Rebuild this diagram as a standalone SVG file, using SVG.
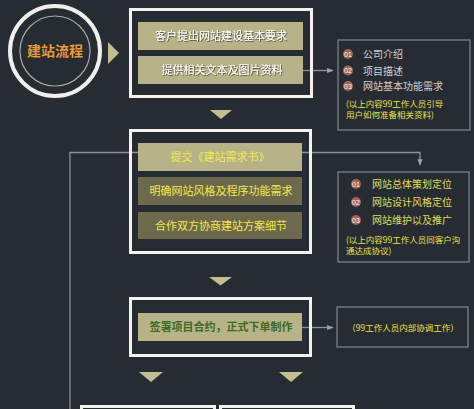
<svg xmlns="http://www.w3.org/2000/svg" width="474" height="409" viewBox="0 0 474 409">
<defs>
<style>
.frame{fill:none;stroke:#f4f2ec;stroke-width:3}
.rowL{fill:#b7b288}
.rowD{fill:#6d694c}
.tri{fill:#c3bd92}
.conn{fill:none;stroke:#8d9096;stroke-width:1.3}
.call{fill:none;stroke:#83868c;stroke-width:1.2}
.t{font-family:"Noto Sans CJK SC","Liberation Sans",sans-serif;font-size:11px;text-anchor:middle}
.w{fill:#ffffff}
.y{fill:#f0ea4a}
.g{fill:#3f6a23;font-weight:bold}
.ci{fill:#a5624f}
.num{font-family:"Liberation Sans",sans-serif;font-size:7px;fill:#ffffff;text-anchor:middle}
.it{font-family:"Noto Sans CJK SC","Liberation Sans",sans-serif;font-size:10px}
.note{font-family:"Noto Sans CJK SC","Liberation Sans",sans-serif;font-size:8.5px;fill:#e8e24a}
</style>
<marker id="ah" viewBox="0 0 10 10" refX="9" refY="5" markerWidth="5" markerHeight="5" orient="auto">
<path d="M0,1 L10,5 L0,9 z" fill="#a0a3a8"/>
</marker>
<filter id="sh" x="-10%" y="-30%" width="120%" height="160%">
<feDropShadow dx="0.8" dy="0.8" stdDeviation="0.5" flood-color="#3a3a30" flood-opacity="0.9"/>
</filter>
</defs>
<rect width="474" height="409" fill="#272c33"/>

<g id="start">
<circle cx="55" cy="51" r="45" fill="none" stroke="#f0efeb" stroke-width="4"/>
<circle cx="55" cy="51" r="35" fill="none" stroke="#a9aaa8" stroke-width="1.2"/>
<text x="55" y="56" font-family="Noto Sans CJK SC,Liberation Sans,sans-serif" font-size="14" font-weight="bold" fill="#e49a35" text-anchor="middle">建站流程</text>
<polygon class="tri" points="108,42 119,53 108,64"/>
</g>

<g id="connectors">
<line class="conn" x1="303" y1="70.5" x2="333" y2="70.5" marker-end="url(#ah)"/>
<polyline class="conn" points="302,152.5 420,152.5 420,165" marker-end="url(#ah)"/>
<polyline class="conn" points="138,152.5 70,152.5 70,409"/>
<line class="conn" x1="302" y1="327.5" x2="333" y2="327.5" marker-end="url(#ah)"/>
<polygon class="tri" points="210,110 232,110 221,119"/>
<polygon class="tri" points="209,277 232,277 220.5,285.5"/>
<polygon class="tri" points="139,372 163,372 151,382"/>
<polygon class="tri" points="279,372 303,372 291,382"/>
</g>

<g id="step1">
<rect class="frame" x="130.5" y="9.5" width="181" height="87"/>
<rect class="rowL" x="138" y="22" width="165" height="28"/>
<rect class="rowL" x="138" y="56" width="165" height="28"/>
<text class="t w" x="221" y="40" filter="url(#sh)">客户提出网站建设基本要求</text>
<text class="t w" x="222" y="74" filter="url(#sh)">提供相关文本及图片资料</text>
</g>

<g id="note1">
<rect class="call" x="338" y="40" width="132" height="90"/>
<circle class="ci" cx="348" cy="54" r="5"/><text class="num" x="348" y="56.5">01</text>
<circle class="ci" cx="348" cy="70.5" r="5"/><text class="num" x="348" y="73">02</text>
<circle class="ci" cx="348" cy="86" r="5"/><text class="num" x="348" y="88.5">03</text>
<text class="it" x="363" y="58" fill="#d2d2d2">公司介绍</text>
<text class="it" x="363" y="74.5" fill="#d2d2d2">项目描述</text>
<text class="it" x="363" y="90" fill="#d2d2d2">网站基本功能需求</text>
<text class="note" x="346" y="107">(以上内容99工作人员引导</text>
<text class="note" x="346" y="118">用户如何准备相关资料)</text>
</g>

<g id="step2">
<rect class="frame" x="130.5" y="130.5" width="180" height="122"/>
<rect class="rowL" x="138" y="143" width="164" height="28"/>
<rect class="rowD" x="138" y="177" width="164" height="28"/>
<rect class="rowD" x="138" y="212" width="164" height="27"/>
<text class="t y" x="220" y="161">提交《建站需求书》</text>
<text class="t y" x="221" y="195">明确网站风格及程序功能需求</text>
<text class="t y" x="221" y="230">合作双方协商建站方案细节</text>
</g>

<g id="note2">
<rect class="call" x="338" y="172" width="131" height="90"/>
<circle class="ci" cx="356" cy="184" r="5"/><text class="num" x="356" y="186.5">01</text>
<circle class="ci" cx="356" cy="202" r="5"/><text class="num" x="356" y="204.5">02</text>
<circle class="ci" cx="356" cy="220" r="5"/><text class="num" x="356" y="222.5">03</text>
<text class="it" x="372" y="188" fill="#e0dc5a">网站总体策划定位</text>
<text class="it" x="372" y="206" fill="#e0dc5a">网站设计风格定位</text>
<text class="it" x="372" y="224" fill="#e0dc5a">网站维护以及推广</text>
<text class="note" x="346" y="243">(以上内容99工作人员同客户沟</text>
<text class="note" x="346" y="254">通达成协议)</text>
</g>

<g id="step3">
<rect class="frame" x="130.5" y="298.5" width="180" height="57"/>
<rect class="rowL" x="138" y="313" width="164" height="28"/>
<text class="t g" x="221" y="331">签署项目合约，正式下单制作</text>
</g>

<g id="note3">
<rect class="call" x="337" y="307" width="131" height="40"/>
<text class="note" x="403" y="330.5" text-anchor="middle">（99工作人员内部协调工作）</text>
</g>

<g id="stepA">
<rect class="frame" x="81.5" y="406.5" width="133" height="20"/>
</g>
<g id="stepB">
<rect class="frame" x="220.5" y="406.5" width="133" height="20"/>
</g>
</svg>
